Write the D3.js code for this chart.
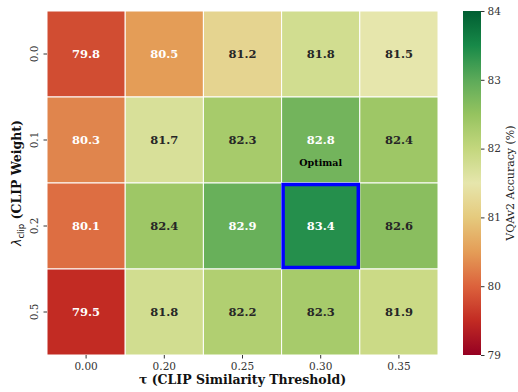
<!DOCTYPE html>
<html>
<head>
<meta charset="utf-8">
<script src="https://cdn.jsdelivr.net/npm/d3@7"></script>
<style>
  body { margin: 0; background: #fff; }
  text { font-family: "DejaVu Serif", serif; }
</style>
</head>
<body>
<div id="chart"></div>
<script>
const taus = ["0.00", "0.20", "0.25", "0.30", "0.35"];
const lambdas = ["0.0", "0.1", "0.2", "0.5"];
const accuracy = [
  [79.8, 80.5, 81.2, 81.8, 81.5],
  [80.3, 81.7, 82.3, 82.8, 82.4],
  [80.1, 82.4, 82.9, 83.4, 82.6],
  [79.5, 81.8, 82.2, 82.3, 81.9]
];
const colorTicks = [79, 80, 81, 82, 83, 84];
const optimal = { row: 2, col: 3 };
// matplotlib RdYlGn anchor colours
const rdylgn = ["#a50026", "#d73027", "#f46d43", "#fdae61", "#fee08b", "#ffffbf",
  "#d9ef8b", "#a6d96a", "#66bd63", "#1a9850", "#006837"];

const width = 518, height = 392;
const margin = { left: 47, top: 11, right: 80, bottom: 37 };
const plotW = 438 - margin.left, plotH = 355 - margin.top;

const svg = d3.select("#chart").append("svg")
  .attr("width", width).attr("height", height);

const x = d3.scaleBand().domain(taus).range([margin.left, margin.left + plotW]);
const y = d3.scaleBand().domain(lambdas).range([margin.top, margin.top + plotH]);
const base = d3.piecewise(d3.interpolateRgb, rdylgn);
// the reference palette is a little muted
const interp = t => {
  const c = d3.rgb(base(t));
  return d3.rgb(c.r * 0.9, c.g * 0.9, c.b * 0.9).formatHex();
};
const color = d3.scaleSequential(interp).domain([79, 84]);

const cells = [];
accuracy.forEach((row, i) => row.forEach((v, j) => cells.push({ lam: lambdas[i], tau: taus[j], v, i, j })));

svg.append("g").selectAll("rect").data(cells).enter().append("rect")
  .attr("x", d => x(d.tau)).attr("y", d => y(d.lam))
  .attr("width", x.bandwidth()).attr("height", y.bandwidth())
  .attr("fill", d => color(d.v))
  .attr("stroke", "#fff").attr("stroke-width", 1);

// light text on the strong ends of the scale
function textColor(v) {
  return (v < 81 || v > 82.7) ? "#fff" : "#262626";
}

svg.append("g").selectAll("text").data(cells).enter().append("text")
  .attr("x", d => x(d.tau) + x.bandwidth() / 2)
  .attr("y", d => y(d.lam) + y.bandwidth() / 2)
  .attr("text-anchor", "middle").attr("dominant-baseline", "central")
  .attr("font-size", 11.5).attr("font-weight", "bold")
  .attr("fill", d => textColor(d.v))
  .text(d => d.v.toFixed(1));

// optimal box
const ox = x(taus[optimal.col]), oy = y(lambdas[optimal.row]);
svg.append("rect")
  .attr("x", ox + 1.5).attr("y", oy + 1.5)
  .attr("width", x.bandwidth() - 3).attr("height", y.bandwidth() - 3)
  .attr("fill", "none").attr("stroke", "#0000ff").attr("stroke-width", 3.5);
svg.append("text")
  .attr("x", ox + x.bandwidth() / 2).attr("y", oy - 21)
  .attr("text-anchor", "middle").attr("dominant-baseline", "central")
  .attr("font-size", 9.5).attr("font-weight", "bold").attr("fill", "#000")
  .text("Optimal");

// axes
const xAxis = svg.append("g").attr("transform", `translate(0,${margin.top + plotH})`)
  .call(d3.axisBottom(x).tickSize(3.5).tickPadding(4));
const yAxis = svg.append("g").attr("transform", `translate(${margin.left},0)`)
  .call(d3.axisLeft(y).tickSize(3.5).tickPadding(4));
[xAxis, yAxis].forEach(a => {
  a.select(".domain").remove();
  a.selectAll("line").attr("stroke", "#333");
  a.selectAll("text").attr("font-size", 10.5).attr("fill", "#333")
    .style("font-family", "DejaVu Serif, serif");
});
yAxis.selectAll(".tick text")
  .attr("transform", "rotate(-90)")
  .attr("x", 0).attr("dy", 0).attr("y", -9)
  .attr("text-anchor", "middle");

svg.append("text")
  .attr("x", margin.left + plotW / 2).attr("y", 384)
  .attr("text-anchor", "middle").attr("font-size", 12.5).attr("font-weight", "bold")
  .attr("fill", "#111")
  .text("τ (CLIP Similarity Threshold)");

const yl = svg.append("text")
  .attr("transform", `translate(21,${margin.top + plotH / 2}) rotate(-90)`)
  .attr("text-anchor", "middle").attr("font-size", 12.5).attr("fill", "#111");
yl.append("tspan").attr("font-style", "italic").attr("font-family", "DejaVu Sans").text("λ");
yl.append("tspan").attr("font-size", 8.5).attr("dy", 3).attr("font-family", "DejaVu Sans").text("clip");
yl.append("tspan").attr("dy", -3).attr("font-weight", "bold").text(" (CLIP Weight)");

// colorbar
const cbX = 463, cbW = 18;
const cy = d3.scaleLinear().domain([79, 84]).range([margin.top + plotH, margin.top]);
const defs = svg.append("defs");
const grad = defs.append("linearGradient").attr("id", "cb")
  .attr("x1", 0).attr("y1", 1).attr("x2", 0).attr("y2", 0);
d3.range(0, 1.001, 0.05).forEach(t => {
  grad.append("stop").attr("offset", t).attr("stop-color", interp(t));
});
svg.append("rect").attr("x", cbX).attr("y", margin.top)
  .attr("width", cbW).attr("height", plotH).attr("fill", "url(#cb)");
const cAxis = svg.append("g").attr("transform", `translate(${cbX + cbW},0)`)
  .call(d3.axisRight(cy).tickValues(colorTicks).tickFormat(d3.format("d")).tickSize(3.5).tickPadding(3));
cAxis.select(".domain").remove();
cAxis.selectAll("line").attr("stroke", "#333");
cAxis.selectAll("text").attr("font-size", 10.5).attr("fill", "#333")
  .style("font-family", "DejaVu Serif, serif");
svg.append("text")
  .attr("transform", `translate(510,${margin.top + plotH / 2}) rotate(-90)`)
  .attr("text-anchor", "middle").attr("dominant-baseline", "central")
  .attr("font-size", 11).attr("fill", "#222")
  .text("VQAv2 Accuracy (%)");
</script>
</body>
</html>
